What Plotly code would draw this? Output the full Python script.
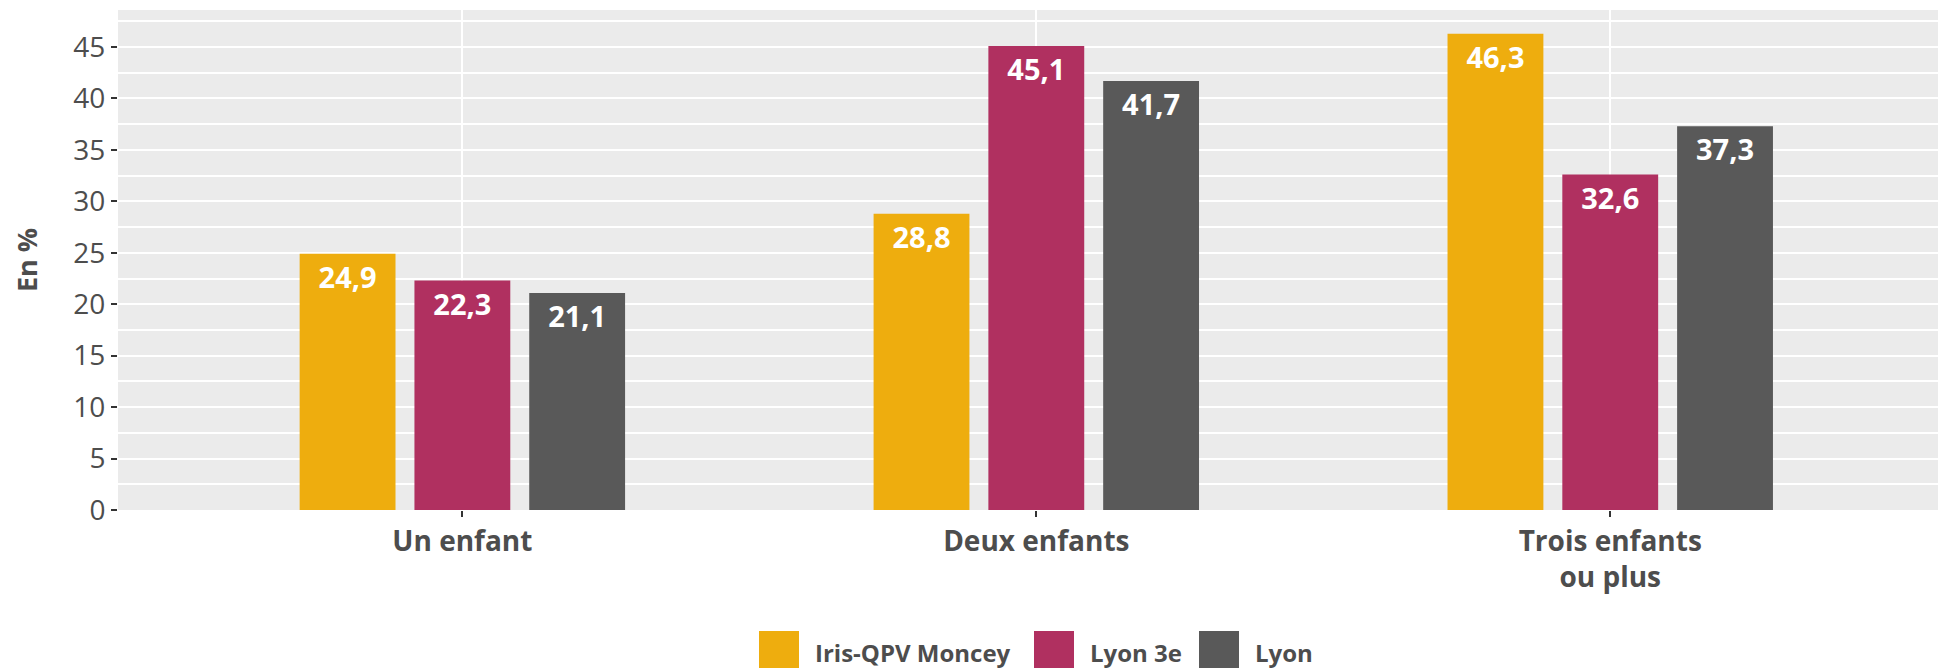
import plotly.graph_objects as go

categories = ["Un enfant", "Deux enfants", "Trois enfants<br>ou plus"]
series_names = ["Iris-QPV Moncey", "Lyon 3e", "Lyon"]
iris_values = [24.9, 28.8, 46.3]
lyon3_values = [22.3, 45.1, 32.6]
lyon_values = [21.1, 41.7, 37.3]
y_ticks = [0, 5, 10, 15, 20, 25, 30, 35, 40, 45]

colors = ["#EEAD0E", "#B03060", "#595959"]
values = [iris_values, lyon3_values, lyon_values]

FONT = "Open Sans"
OFF = 8  # default page body margin of the written html
W, H = 1946 - OFF, 668 - OFF
ML, MR, MT = 118 - OFF, 0, 10 - OFF
PH = 500
MB = H - MT - PH
PW = W - ML - MR

fig = go.Figure()
for name, vals, col in zip(series_names, values, colors):
    fig.add_trace(go.Bar(
        x=categories, y=vals, name=name,
        marker=dict(color=col, line=dict(width=0)),
        texttemplate="%{y:.1f}",
        textposition="inside",
        insidetextanchor="end",
        textangle=0,
        textfont=dict(family=FONT, size=29, color="white", weight="bold"),
        showlegend=False,
    ))

fig.update_layout(
    width=W, height=H,
    margin=dict(l=ML, r=MR, t=MT, b=MB, pad=0, autoexpand=False),
    paper_bgcolor="white",
    plot_bgcolor="#EBEBEB",
    barmode="group",
    bargap=0.4,
    bargroupgap=0.165,
    separators=", ",
    font=dict(family=FONT, color="#4D4D4D"),
    xaxis=dict(
        type="category",
        range=[-0.6, 2.585],
        automargin=False,
        showgrid=True, gridcolor="white", gridwidth=2,
        ticks="outside", ticklen=6, tickwidth=1.5, tickcolor="#333333",
        tickfont=dict(family=FONT, size=28, color="#4D4D4D", weight="bold"),
        zeroline=False, showline=False,
    ),
    yaxis=dict(
        range=[0, 48.6],
        automargin=False,
        tickvals=y_ticks,
        showgrid=True, gridcolor="white", gridwidth=2,
        minor=dict(dtick=2.5, tick0=0, showgrid=True, gridcolor="white", gridwidth=1.5),
        ticks="outside", ticklen=6, tickwidth=1.5, tickcolor="#333333",
        tickfont=dict(family=FONT, size=28, color="#4D4D4D"),
        title=dict(text="En %", font=dict(family=FONT, size=27, color="#4D4D4D", weight="bold"), standoff=28),
        zeroline=False, showline=False,
    ),
)

# legend drawn manually (large square keys as in the reference); page pixel positions
key_left_px = [759, 1034, 1199]
key_size_px = 40
text_gap_px = 14
key_top_px = 631

def px2x(px):
    return (px - OFF - ML) / PW

def py2y(py):
    return (MT + PH - (py - OFF)) / PH

for name, col, kx in zip(series_names, colors, key_left_px):
    fig.add_shape(
        type="rect", xref="paper", yref="paper",
        x0=px2x(kx), x1=px2x(kx + key_size_px),
        y0=py2y(key_top_px + key_size_px), y1=py2y(key_top_px),
        fillcolor=col, line=dict(width=0), layer="above",
    )
    fig.add_annotation(
        xref="paper", yref="paper",
        x=px2x(kx + key_size_px + text_gap_px), y=py2y(652),
        xanchor="left", yanchor="middle",
        text=name, showarrow=False,
        font=dict(family=FONT, size=24, color="#4D4D4D", weight="bold"),
    )

fig.write_html("out.html")
